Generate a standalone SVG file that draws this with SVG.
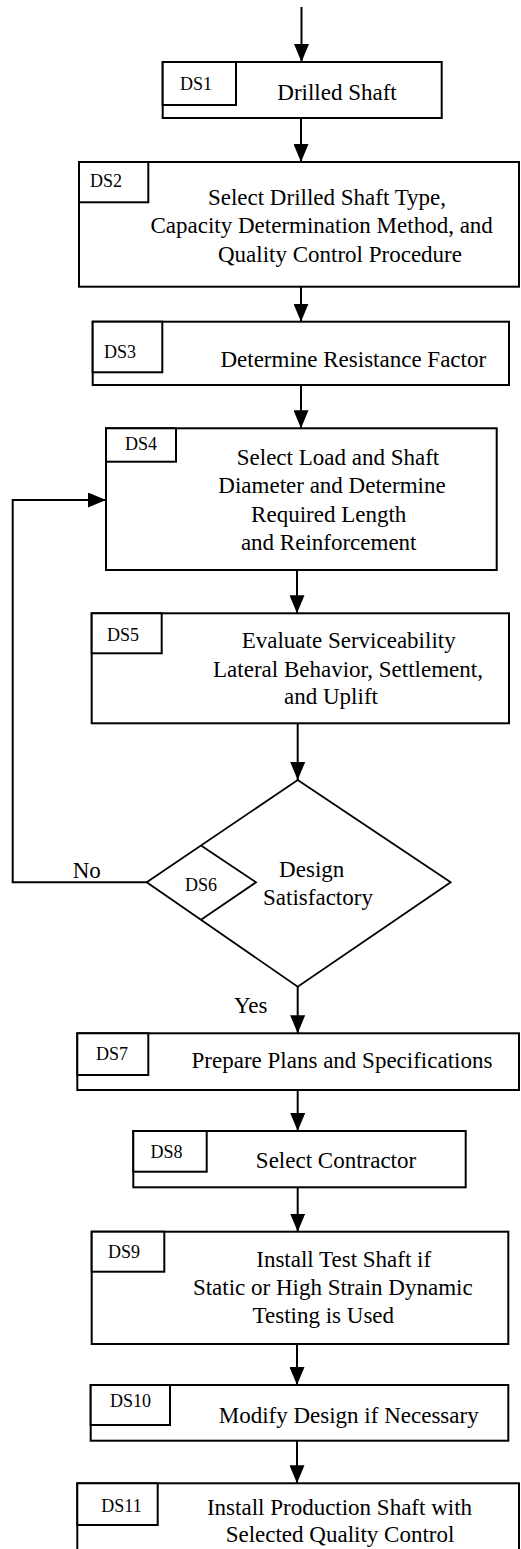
<svg xmlns="http://www.w3.org/2000/svg" width="521" height="1549" viewBox="0 0 521 1549">
<style>
.box{fill:#fff;stroke:#000;stroke-width:2}
.lbl{fill:#fff;stroke:#000;stroke-width:2}
.dia{fill:#fff;stroke:#000;stroke-width:1.8}
.t{font-family:"Liberation Serif","Times New Roman",serif;font-size:23px;fill:#000;text-anchor:middle}
.s{font-family:"Liberation Serif","Times New Roman",serif;font-size:18px;fill:#000;text-anchor:middle}
.c{fill:none;stroke:#000;stroke-width:2}
</style>
<defs>
<marker id="ah" viewBox="0 0 15 18" refX="18" refY="7.5" markerUnits="userSpaceOnUse" markerWidth="15" markerHeight="18" orient="auto">
<path d="M0,0 L18,7.5 L0,15 z" fill="#000"/>
</marker>
<marker id="ah2" viewBox="0 0 18 15" refX="18" refY="7.5" markerUnits="userSpaceOnUse" markerWidth="18" markerHeight="15" orient="auto">
<path d="M0,0 L18,7.5 L0,15 z" fill="#000"/>
</marker>
</defs>
<rect width="521" height="1549" fill="#fff"/>

<g id="connectors">
<path class="c" d="M301.5,7 V62" marker-end="url(#ah2)"/>
<path class="c" d="M301,118 V162" marker-end="url(#ah2)"/>
<path class="c" d="M301,287 V321.7" marker-end="url(#ah2)"/>
<path class="c" d="M301,385 V428.3" marker-end="url(#ah2)"/>
<path class="c" d="M297,570 V613.3" marker-end="url(#ah2)"/>
<path class="c" d="M297.7,723.3 V780" marker-end="url(#ah2)"/>
<path class="c" d="M297.7,986.7 V1033.3" marker-end="url(#ah2)"/>
<path class="c" d="M297.7,1090 V1131" marker-end="url(#ah2)"/>
<path class="c" d="M297.7,1187.3 V1231.7" marker-end="url(#ah2)"/>
<path class="c" d="M297,1344 V1385" marker-end="url(#ah2)"/>
<path class="c" d="M297,1440.7 V1483.3" marker-end="url(#ah2)"/>
<path class="c" d="M146.7,882.3 H12.7 V500 H106" marker-end="url(#ah2)"/>
<text class="t" x="86.7" y="878.3">No</text>
<text class="t" x="250.7" y="1013.3">Yes</text>
</g>

<g id="DS1">
<rect class="box" x="162.7" y="62" width="279" height="56"/>
<rect class="lbl" x="162.7" y="62" width="73.3" height="43"/>
<text class="s" x="196" y="90">DS1</text>
<text class="t" x="337" y="100">Drilled Shaft</text>
</g>

<g id="DS2">
<rect class="box" x="79" y="162" width="440" height="124.7"/>
<rect class="lbl" x="79" y="162" width="69.3" height="40.3"/>
<text class="s" x="106" y="187">DS2</text>
<text class="t" x="327" y="205">Select Drilled Shaft Type,</text>
<text class="t" x="321.7" y="233.3">Capacity Determination Method, and</text>
<text class="t" x="340" y="261.7">Quality Control Procedure</text>
</g>

<g id="DS3">
<rect class="box" x="92.7" y="321.7" width="416.3" height="63.3"/>
<rect class="lbl" x="92.7" y="321.7" width="69.6" height="50.6"/>
<text class="s" x="120" y="358.3">DS3</text>
<text class="t" x="353.3" y="367.3">Determine Resistance Factor</text>
</g>

<g id="DS4">
<rect class="box" x="106" y="428.3" width="390.7" height="141.7"/>
<rect class="lbl" x="106" y="428.3" width="70" height="33.4"/>
<text class="s" x="141" y="450">DS4</text>
<text class="t" x="338" y="465">Select Load and Shaft</text>
<text class="t" x="332" y="492.7">Diameter and Determine</text>
<text class="t" x="328.7" y="521.7">Required Length</text>
<text class="t" x="328.7" y="550">and Reinforcement</text>
</g>

<g id="DS5">
<rect class="box" x="91.7" y="613.3" width="417.3" height="110"/>
<rect class="lbl" x="91.7" y="613.3" width="70" height="40"/>
<text class="s" x="123" y="641">DS5</text>
<text class="t" x="348.7" y="648.3">Evaluate Serviceability</text>
<text class="t" x="348" y="676.7">Lateral Behavior, Settlement,</text>
<text class="t" x="331" y="704">and Uplift</text>
</g>

<g id="DS6">
<polygon class="dia" points="297.7,780 450.7,882.3 297.7,986.7 146.7,882.3"/>
<polyline class="dia" fill="none" points="201,845.5 256,882.3 201,919.8"/>
<text class="s" x="201" y="891">DS6</text>
<text class="t" x="311.7" y="876.7">Design</text>
<text class="t" x="318" y="905">Satisfactory</text>
</g>

<g id="DS7">
<rect class="box" x="77.3" y="1033.3" width="441.7" height="56.7"/>
<rect class="lbl" x="77.3" y="1033.3" width="71" height="41.7"/>
<text class="s" x="112" y="1060">DS7</text>
<text class="t" x="342" y="1068.3">Prepare Plans and Specifications</text>
</g>

<g id="DS8">
<rect class="box" x="133.3" y="1131" width="332.4" height="56.3"/>
<rect class="lbl" x="133.3" y="1131" width="73.4" height="40.7"/>
<text class="s" x="166.5" y="1158.3">DS8</text>
<text class="t" x="336" y="1168.3">Select Contractor</text>
</g>

<g id="DS9">
<rect class="box" x="91.7" y="1231.7" width="416.6" height="112.3"/>
<rect class="lbl" x="91.7" y="1231.7" width="72.6" height="40"/>
<text class="s" x="124" y="1258">DS9</text>
<text class="t" x="343.7" y="1266.7">Install Test Shaft if</text>
<text class="t" x="332.8" y="1295">Static or High Strain Dynamic</text>
<text class="t" x="323.3" y="1322.7">Testing is Used</text>
</g>

<g id="DS10">
<rect class="box" x="90.7" y="1385" width="417.6" height="55.7"/>
<rect class="lbl" x="90.7" y="1385" width="79.3" height="40"/>
<text class="s" x="130.5" y="1407">DS10</text>
<text class="t" x="348.7" y="1423.3">Modify Design if Necessary</text>
</g>

<g id="DS11">
<rect class="box" x="77.3" y="1483.3" width="441.7" height="90"/>
<rect class="lbl" x="77.3" y="1483.3" width="80.4" height="41.7"/>
<text class="s" x="121.5" y="1511.7">DS11</text>
<text class="t" x="339.5" y="1515">Install Production Shaft with</text>
<text class="t" x="340" y="1541.7">Selected Quality Control</text>
</g>
</svg>
